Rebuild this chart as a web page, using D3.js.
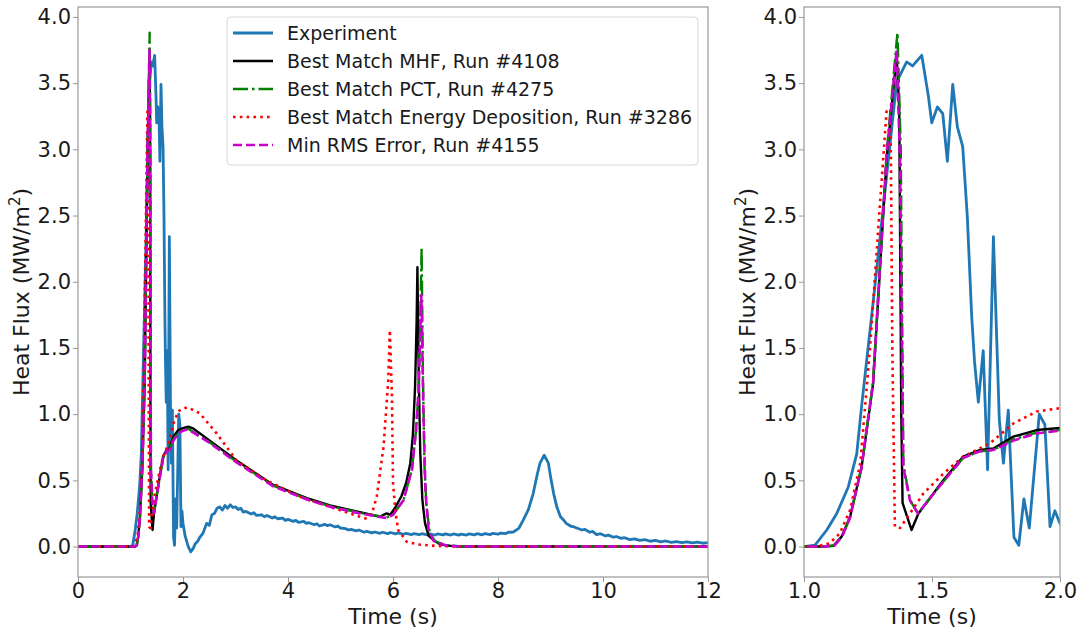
<!DOCTYPE html>
<html lang="en">
<head>
    <meta charset="UTF-8">
    <title>heat flux</title>
    <script src="https://cdn.jsdelivr.net/npm/d3@7"></script>
    <style>
        body{ margin: 0; background: #fff; }
        text{ font-family: "DejaVu Sans", sans-serif; fill: #1a1a1a; }
        .tick line{ stroke: #999; }
        .domain{ display: none; }
    </style>
</head>
<body>
<svg id="fig" width="1083" height="629"></svg>

<script>
    // experiment (measured) heat flux
    let expT = [0, 0.5, 0.98, 1.0, 1.043, 1.089, 1.128, 1.173, 1.206, 1.225, 1.271, 1.362, 1.401, 1.424, 1.46,
        1.486, 1.499, 1.521, 1.542, 1.56, 1.581, 1.599, 1.62, 1.638, 1.655, 1.666, 1.681, 1.70, 1.717, 1.74,
        1.763, 1.779, 1.798, 1.82, 1.839, 1.859, 1.88, 1.919, 1.941, 1.961, 1.98, 2.0, 2.04, 2.1, 2.15, 2.2,
        2.23, 2.28, 2.32, 2.38, 2.45, 2.5, 2.55, 2.6, 2.65, 2.7, 2.75, 2.8, 2.85, 2.9, 2.95, 3.0, 3.05, 3.1,
        3.15, 3.2, 3.3, 3.35, 3.4, 3.5, 3.55, 3.6, 3.7, 3.75, 3.8, 3.9, 3.95, 4.0, 4.1, 4.15, 4.2, 4.3, 4.35,
        4.4, 4.5, 4.55, 4.6, 4.7, 4.75, 4.8, 4.9, 4.95, 5.0, 5.1, 5.15, 5.2, 5.3, 5.35, 5.45, 5.5, 5.6, 5.65,
        5.75, 5.8, 5.9, 5.95, 6.05, 6.1, 6.2, 6.25, 6.35, 6.4, 6.5, 6.55, 6.65, 6.7, 6.8, 6.85, 6.95, 7.0,
        7.1, 7.15, 7.25, 7.3, 7.4, 7.45, 7.55, 7.6, 7.7, 7.75, 7.85, 7.9, 8.0, 8.05, 8.15, 8.2, 8.29, 8.35,
        8.4, 8.48, 8.58, 8.67, 8.75, 8.8, 8.88, 8.96, 9.0, 9.06, 9.12, 9.19, 9.25, 9.3, 9.38, 9.45, 9.5, 9.6,
        9.65, 9.75, 9.8, 9.88, 9.95, 10.05, 10.1, 10.2, 10.25, 10.35, 10.4, 10.51, 10.6, 10.7, 10.8, 10.9,
        11.0, 11.1, 11.2, 11.3, 11.4, 11.5, 11.6, 11.7, 11.8, 11.9, 12.0]
    let expV = [0, 0, 0, 0, 0.01, 0.125, 0.25, 0.45, 0.70, 1.06, 1.86, 3.51, 3.66, 3.63, 3.71,
        3.40, 3.20, 3.32, 3.27, 2.91, 3.49, 3.17, 3.02, 2.49, 1.74, 1.40, 1.09, 1.48, 0.58, 2.34,
        0.955, 0.63, 1.03, 0.07, 0.01, 0.36, 0.14, 1.0, 0.92, 0.15, 0.27, 0.175, 0.08, 0.0, -0.04, -0.01,
        0.02, 0.04, 0.07, 0.10, 0.175, 0.16, 0.24, 0.25, 0.29, 0.30, 0.275, 0.31, 0.29, 0.315, 0.295, 0.30, 0.28, 0.29,
        0.26, 0.265, 0.245, 0.255, 0.235, 0.24, 0.225, 0.235, 0.215, 0.225, 0.21, 0.215, 0.198, 0.205, 0.19, 0.198, 0.182, 0.19, 0.175,
        0.18, 0.165, 0.172, 0.155, 0.168, 0.158, 0.165, 0.148, 0.155, 0.14, 0.135, 0.125, 0.13, 0.118, 0.125, 0.108, 0.115, 0.103, 0.11,
        0.10, 0.108, 0.097, 0.106, 0.096, 0.104, 0.093, 0.10, 0.09, 0.098, 0.09, 0.097, 0.088, 0.096, 0.087, 0.095, 0.088, 0.096,
        0.087, 0.095, 0.086, 0.094, 0.087, 0.096, 0.088, 0.097, 0.089, 0.098, 0.09, 0.10, 0.093, 0.102, 0.098, 0.108, 0.11, 0.125,
        0.14, 0.20, 0.28, 0.40, 0.55, 0.63, 0.69, 0.63, 0.53, 0.40, 0.30, 0.225, 0.20, 0.175, 0.155, 0.148, 0.14, 0.125,
        0.13, 0.108, 0.115, 0.09, 0.097, 0.08, 0.086, 0.07, 0.076, 0.062, 0.068, 0.052, 0.058, 0.046, 0.052, 0.04,
        0.046, 0.036, 0.042, 0.032, 0.038, 0.03, 0.035, 0.027, 0.033, 0.025, 0.03]

    // best match MHF, run #4108
    let mhfT = [0, 1.08, 1.115, 1.147, 1.18, 1.225, 1.27, 1.323, 1.362, 1.372, 1.38, 1.385, 1.42, 1.447, 1.544,
        1.622, 1.688, 1.74, 1.818, 1.909, 2.0, 2.1, 2.2, 2.51, 3.02, 3.72, 4.36, 4.8, 5.37, 5.75, 5.82, 5.88,
        5.95, 6.05, 6.16, 6.25, 6.33, 6.38, 6.42, 6.45, 6.465, 6.49, 6.52, 6.56, 6.61, 6.68, 6.77, 6.9, 7.1, 7.3, 12]
    let mhfV = [0, 0, 0.005, 0.075, 0.225, 0.60, 1.23, 2.94, 3.71, 3.3, 1.0, 0.33, 0.125, 0.25, 0.50,
        0.68, 0.73, 0.74, 0.83, 0.88, 0.895, 0.905, 0.89, 0.80, 0.65, 0.465, 0.365, 0.31, 0.26, 0.225, 0.24, 0.25,
        0.24, 0.30, 0.38, 0.48, 0.63, 0.85, 1.2, 1.7, 2.11, 1.3, 0.7, 0.35, 0.175, 0.08, 0.05, 0.015, 0.005, 0, 0]

    // best match PCT, run #4275
    let pctT = [0, 1.08, 1.12, 1.15, 1.18, 1.225, 1.27, 1.323, 1.365, 1.378, 1.388, 1.414, 1.445, 1.544, 1.622,
        1.688, 1.74, 1.818, 1.909, 2.0, 2.1, 2.5, 3.02, 3.72, 4.36, 4.8, 5.37, 5.8, 5.88, 6.0, 6.2, 6.36,
        6.44, 6.49, 6.52, 6.545, 6.57, 6.6, 6.64, 6.7, 6.8, 7.0, 7.3, 12]
    let pctV = [0, 0, 0.01, 0.08, 0.22, 0.60, 1.25, 2.98, 3.88, 3.0, 0.62, 0.35, 0.25, 0.49, 0.67,
        0.72, 0.73, 0.81, 0.86, 0.88, 0.89, 0.79, 0.64, 0.46, 0.36, 0.305, 0.255, 0.225, 0.22, 0.24, 0.35, 0.58,
        0.88, 1.2, 1.7, 2.26, 1.3, 0.6, 0.3, 0.1, 0.04, 0.01, 0, 0]

    // best match energy deposition, run #3286
    let edT = [0, 1.05, 1.10, 1.14, 1.18, 1.22, 1.258, 1.29, 1.323, 1.338, 1.345, 1.355, 1.375, 1.414, 1.466,
        1.544, 1.622, 1.727, 1.818, 1.909, 2.0, 2.1, 2.32, 2.64, 3.02, 3.59, 4.23, 4.8, 5.37, 5.5, 5.6, 5.69,
        5.82, 5.91, 5.94, 5.98, 6.0, 6.05, 6.10, 6.26, 6.5, 6.8, 7.2, 12]
    let edV = [0, 0, 0.025, 0.10, 0.275, 0.63, 1.5, 2.4, 3.30, 3.3, 1.5, 0.15, 0.14, 0.25, 0.40,
        0.55, 0.68, 0.78, 0.93, 1.02, 1.045, 1.05, 1.006, 0.855, 0.65, 0.50, 0.376, 0.30, 0.225, 0.21, 0.25, 0.376,
        0.754, 1.26, 1.635, 1.13, 0.48, 0.25, 0.125, 0.036, 0.015, 0.005, 0, 0]

    // min RMS error, run #4155
    let rmsT = [0, 1.08, 1.12, 1.15, 1.18, 1.225, 1.27, 1.323, 1.362, 1.375, 1.388, 1.414, 1.445, 1.544, 1.622,
        1.688, 1.74, 1.818, 1.909, 2.0, 2.1, 2.5, 3.02, 3.72, 4.36, 4.8, 5.37, 5.8, 5.88, 6.0, 6.2, 6.36,
        6.44, 6.49, 6.54, 6.58, 6.62, 6.68, 6.78, 7.0, 7.3, 12]
    let rmsV = [0, 0, 0.01, 0.08, 0.22, 0.60, 1.24, 2.96, 3.75, 2.9, 0.60, 0.35, 0.25, 0.49, 0.67,
        0.72, 0.73, 0.80, 0.855, 0.875, 0.885, 0.785, 0.635, 0.455, 0.355, 0.30, 0.25, 0.22, 0.215, 0.24, 0.35, 0.58,
        0.88, 1.2, 1.9, 1.0, 0.4, 0.12, 0.04, 0.01, 0, 0]

    let seriesNames = ["Experiment", "Best Match MHF, Run #4108", "Best Match PCT, Run #4275",
        "Best Match Energy Deposition, Run #3286", "Min RMS Error, Run #4155"]

    let yTicks = [0.0, 0.5, 1.0, 1.5, 2.0, 2.5, 3.0, 3.5, 4.0]
    let leftXTicks = [0, 2, 4, 6, 8, 10, 12]
    let rightXTicks = [1.0, 1.5, 2.0]

    let styles = [
        {color: "#1f77b4", width: 2.8, dash: null},
        {color: "#000000", width: 2.4, dash: null},
        {color: "#008000", width: 2.4, dash: "15,4,2.5,4"},
        {color: "#ff0000", width: 2.6, dash: "2.6,4.2"},
        {color: "#cc00cc", width: 2.6, dash: "9,4"}
    ]

    let allSeries = [
        d3.zip(expT, expV), d3.zip(mhfT, mhfV), d3.zip(pctT, pctV), d3.zip(edT, edV), d3.zip(rmsT, rmsV)
    ]

    let svg = d3.select("#fig")

    function panel(id, left, right, xDomain, xTicks, xFmt){
        let top = 7, bottom = 577
        let x = d3.scaleLinear().domain(xDomain).range([left, right])
        let y = d3.scaleLinear().domain([-0.23, 4.075]).range([bottom, top])
        let g = svg.append("g")

        g.append("clipPath").attr("id", "clip" + id)
            .append("rect")
            .attr("x", left).attr("y", top)
            .attr("width", right - left).attr("height", bottom - top)

        let line = d3.line().x(d => x(d[0])).y(d => y(d[1]))
        let lines = g.append("g").attr("clip-path", "url(#clip" + id + ")")
        allSeries.forEach(function (s, i){
            lines.append("path")
                .datum(s)
                .attr("d", line)
                .attr("fill", "none")
                .attr("stroke", styles[i].color)
                .attr("stroke-width", styles[i].width)
                .attr("stroke-linejoin", "round")
                .attr("stroke-dasharray", styles[i].dash)
        })

        // frame
        g.append("rect")
            .attr("x", left).attr("y", top)
            .attr("width", right - left).attr("height", bottom - top)
            .attr("fill", "none").attr("stroke", "#999").attr("stroke-width", 1.2)

        g.append("g")
            .attr("transform", "translate(0," + bottom + ")")
            .call(d3.axisBottom(x).tickValues(xTicks).tickFormat(xFmt).tickSize(5).tickPadding(1))
            .selectAll("text").style("font-size", "21px")
        g.append("g")
            .attr("transform", "translate(" + left + ",0)")
            .call(d3.axisLeft(y).tickValues(yTicks).tickFormat(d3.format(".1f")).tickSize(5).tickPadding(2))
            .selectAll("text").style("font-size", "21px")

        g.append("text")
            .attr("x", (left + right) / 2).attr("y", 624)
            .attr("text-anchor", "middle")
            .style("font-size", "22px")
            .text("Time (s)")

        let yl = g.append("text")
            .attr("transform", "translate(" + (left - 49) + "," + ((top + bottom) / 2) + ") rotate(-90)")
            .attr("text-anchor", "middle")
            .style("font-size", "22px")
        yl.append("tspan").text("Heat Flux (MW/m")
        yl.append("tspan").attr("dy", -9).style("font-size", "15px").text("2")
        yl.append("tspan").attr("dy", 9).text(")")
    }

    panel("L", 78, 708, [0, 12], leftXTicks, d3.format("d"))
    panel("R", 804, 1060, [1, 2], rightXTicks, d3.format(".1f"))

    // legend
    let legend = svg.append("g")
    legend.append("rect")
        .attr("x", 227).attr("y", 17).attr("width", 471).attr("height", 148)
        .attr("rx", 4)
        .attr("fill", "#fff").attr("fill-opacity", 0.8)
        .attr("stroke", "#d6d6d6")
    seriesNames.forEach(function (name, i){
        let yy = 33 + i * 28
        legend.append("line")
            .attr("x1", 233).attr("x2", 273).attr("y1", yy).attr("y2", yy)
            .attr("stroke", styles[i].color)
            .attr("stroke-width", styles[i].width)
            .attr("stroke-dasharray", styles[i].dash)
        legend.append("text")
            .attr("x", 287).attr("y", yy + 7)
            .style("font-size", "19px")
            .text(name)
    })
</script>
</body>
</html>
